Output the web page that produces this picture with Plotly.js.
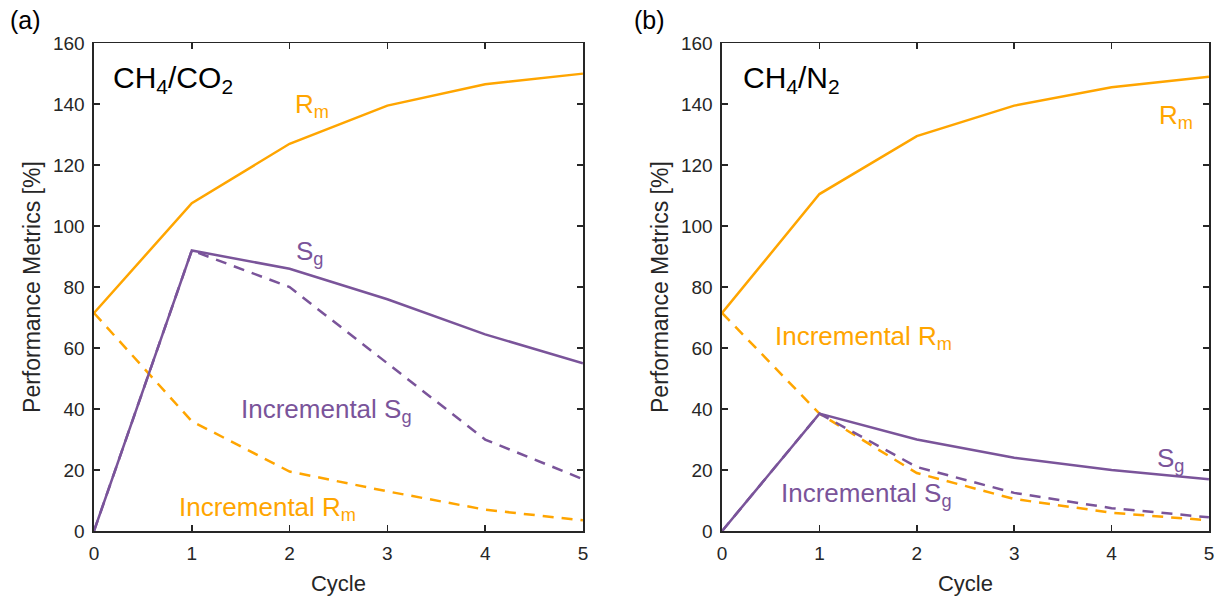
<!DOCTYPE html>
<html>
<head>
<meta charset="utf-8">
<script src="https://cdn.plot.ly/plotly-3.0.1.min.js"></script>
<style>html,body{margin:0;padding:0;background:#fff;}#chart{width:1216px;height:599px;}</style>
</head>
<body>
<div id="chart"></div>
<script>
const cycles = [0, 1, 2, 3, 4, 5];
// Panel (a) CH4/CO2
const a_Rm    = [71.5, 107.5, 127, 139.5, 146.5, 150];
const a_Sg    = [0, 92, 86, 76, 64.5, 55];
const a_incSg = [0, 92, 80, 55, 30, 17];
const a_incRm = [71.5, 36, 19.5, 13, 7, 3.5];
// Panel (b) CH4/N2
const b_Rm    = [71.5, 110.5, 129.5, 139.5, 145.5, 149];
const b_Sg    = [0, 38.5, 30, 24, 20, 17];
const b_incSg = [0, 38.5, 21, 12.5, 7.5, 4.5];
const b_incRm = [71.5, 38.5, 19, 10.5, 6, 3.5];
const yTicks = [0, 20, 40, 60, 80, 100, 120, 140, 160];
const xTicks = [0, 1, 2, 3, 4, 5];

const ORANGE = '#FFA500';
const PURPLE = '#7A549A';
const DASH = '11px,8px';

function tr(y, color, dash, xa, ya) {
  return {x: cycles, y: y, type: 'scatter', mode: 'lines',
    line: {color: color, width: 2.5, dash: dash || 'solid'},
    xaxis: xa, yaxis: ya, hoverinfo: 'skip', showlegend: false};
}

const data = [
  tr(a_incRm, ORANGE, DASH, 'x', 'y'),
  tr(a_incSg, PURPLE, DASH, 'x', 'y'),
  tr(a_Rm, ORANGE, null, 'x', 'y'),
  tr(a_Sg, PURPLE, null, 'x', 'y'),
  tr(b_incRm, ORANGE, DASH, 'x2', 'y2'),
  tr(b_incSg, PURPLE, DASH, 'x2', 'y2'),
  tr(b_Rm, ORANGE, null, 'x2', 'y2'),
  tr(b_Sg, PURPLE, null, 'x2', 'y2')
];

const FONT = 'Liberation Sans, Arial, Helvetica, sans-serif';
const AXC = '#262626';

function xax(domain, anchor) {
  return {domain: domain, anchor: anchor, range: [0, 5], tickvals: xTicks,
    ticks: 'inside', ticklen: 6, tickwidth: 1.5, tickcolor: AXC,
    showline: true, linecolor: AXC, linewidth: 1.6, mirror: 'allticks',
    showgrid: false, zeroline: false, ticklabelstandoff: 5,
    tickfont: {family: FONT, size: 19, color: AXC},
    title: {text: 'Cycle', font: {family: FONT, size: 22, color: AXC}, standoff: 12}};
}
function yax(anchor) {
  return {domain: [0.1135, 0.928], anchor: anchor, range: [0, 160], tickvals: yTicks,
    ticks: 'inside', ticklen: 6, tickwidth: 1.5, tickcolor: AXC,
    showline: true, linecolor: AXC, linewidth: 1.6, mirror: 'allticks',
    showgrid: false, zeroline: false, ticklabelstandoff: 4,
    tickfont: {family: FONT, size: 19, color: AXC},
    title: {text: 'Performance Metrics [%]', font: {family: FONT, size: 23, color: AXC}, standoff: 6}};
}

function lab(text, x, y, color, xr, yr) {
  return {text: text, x: x, y: y, xref: xr, yref: yr, showarrow: false,
    font: {family: FONT, size: 26, color: color}, xanchor: 'center', yanchor: 'middle'};
}

const annotations = [
  {text: '(a)', x: 8/1216, y: 1 - 20/599, xref: 'paper', yref: 'paper', showarrow: false,
   xanchor: 'left', yanchor: 'middle', font: {family: FONT, size: 25, color: '#000'}},
  {text: '(b)', x: 632/1216, y: 1 - 20/599, xref: 'paper', yref: 'paper', showarrow: false,
   xanchor: 'left', yanchor: 'middle', font: {family: FONT, size: 25, color: '#000'}},
  {text: 'CH<sub>4</sub>/CO<sub>2</sub>', x: 0.034, y: 0.925, xref: 'x domain', yref: 'y domain',
   showarrow: false, xanchor: 'left', yanchor: 'middle', font: {family: FONT, size: 30, color: '#000'}},
  {text: 'CH<sub>4</sub>/N<sub>2</sub>', x: 0.038, y: 0.925, xref: 'x2 domain', yref: 'y2 domain',
   showarrow: false, xanchor: 'left', yanchor: 'middle', font: {family: FONT, size: 30, color: '#000'}},
  lab('R<sub>m</sub>', 2.23, 139.5, ORANGE, 'x', 'y'),
  lab('S<sub>g</sub>', 2.2, 91.5, PURPLE, 'x', 'y'),
  lab('Incremental S<sub>g</sub>', 2.38, 39.5, PURPLE, 'x', 'y'),
  lab('Incremental R<sub>m</sub>', 1.77, 7.5, ORANGE, 'x', 'y'),
  lab('R<sub>m</sub>', 4.66, 136, ORANGE, 'x2', 'y2'),
  lab('Incremental R<sub>m</sub>', 1.45, 63.5, ORANGE, 'x2', 'y2'),
  lab('S<sub>g</sub>', 4.6, 23.5, PURPLE, 'x2', 'y2'),
  lab('Incremental S<sub>g</sub>', 1.48, 12, PURPLE, 'x2', 'y2')
];

const layout = {
  width: 1216, height: 599,
  margin: {l: 0, r: 0, t: 0, b: 0},
  paper_bgcolor: '#fff', plot_bgcolor: '#fff',
  font: {family: FONT},
  xaxis: xax([0.0773, 0.4794], 'y'),
  yaxis: yax('x'),
  xaxis2: xax([0.5938, 0.9942], 'y2'),
  yaxis2: yax('x2'),
  annotations: annotations,
  showlegend: false
};

Plotly.newPlot('chart', data, layout, {staticPlot: true, displayModeBar: false});
</script>
</body>
</html>
